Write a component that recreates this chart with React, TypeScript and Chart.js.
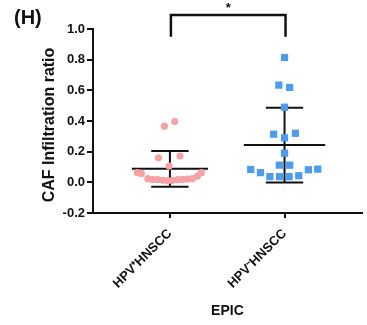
import React, { useEffect, useRef } from "react";
import { Chart, registerables } from "chart.js";

Chart.register(...registerables);

// ---- data ----
const categories = ["HPV\u207AHNSCC", "HPV\u207BHNSCC"];
const categoryPositions = [1, 2];
const yTickValues = [-0.2, 0.0, 0.2, 0.4, 0.6, 0.8, 1.0];

const hpvPosValues = [0.366, 0.396, 0.16, 0.171, 0.106, 0.063, 0.058, 0.024, 0.019, 0.018, 0.013, 0.011, 0.013, 0.018, 0.019, 0.021, 0.024, 0.041, 0.063];
const hpvPosJitter = [-0.048, 0.042, -0.1, 0.088, -0.007, -0.284, -0.249, -0.192, -0.149, -0.106, -0.062, -0.019, 0.024, 0.068, 0.111, 0.154, 0.197, 0.241, 0.275];

const hpvNegValues = [0.814, 0.634, 0.619, 0.49, 0.314, 0.29, 0.32, 0.19, 0.112, 0.112, 0.084, 0.063, 0.037, 0.037, 0.037, 0.043, 0.082, 0.086];
const hpvNegJitter = [0, -0.05, 0.045, 0, -0.095, 0, 0.095, 0, -0.045, 0.045, -0.295, -0.21, -0.128, -0.043, 0.04, 0.124, 0.208, 0.29];

const groupMeans = [0.088, 0.243];
const groupSDs = [0.117, 0.244];

const FONT = "'Liberation Sans', Arial, Helvetica, sans-serif";

function segment(x1: number, y1: number, x2: number, y2: number) {
  return {
    type: "line" as const,
    data: [{ x: x1, y: y1 }, { x: x2, y: y2 }],
    showLine: true,
    borderColor: "#111",
    borderWidth: 2,
    pointRadius: 0,
    pointHoverRadius: 0,
    fill: false,
    order: 5,
    clip: false as any,
  };
}

export default function App() {
  const ref = useRef<HTMLCanvasElement>(null);

  useEffect(() => {
    document.body.style.margin = "0";
    const meanHalf = [0.332, 0.355];
    const capHalf = 0.163;
    const errDatasets: any[] = [];
    categoryPositions.forEach((c, i) => {
      const m = groupMeans[i];
      const s = groupSDs[i];
      errDatasets.push(segment(c - meanHalf[i], m, c + meanHalf[i], m));
      errDatasets.push(segment(c, m - s, c, m + s));
      errDatasets.push(segment(c - capHalf, m + s, c + capHalf, m + s));
      errDatasets.push(segment(c - capHalf, m - s, c + capHalf, m - s));
    });

    const annotPlugin = {
      id: "annot",
      afterDraw(chart: any) {
        const ctx = chart.ctx;
        const xs = chart.scales.x;
        const ys = chart.scales.y;
        ctx.save();
        ctx.fillStyle = "#111";
        ctx.strokeStyle = "#111";
        // panel letter
        ctx.font = `bold 20px ${FONT}`;
        ctx.textAlign = "left";
        ctx.textBaseline = "middle";
        ctx.fillText("(H)", 14, 18);
        // y title
        ctx.save();
        ctx.translate(50, 125);
        ctx.rotate(-Math.PI / 2);
        ctx.font = `bold 16px ${FONT}`;
        ctx.textAlign = "center";
        ctx.textBaseline = "middle";
        ctx.fillText("CAF Infiltration ratio", 0, 0);
        ctx.restore();
        // significance bracket
        const x1 = xs.getPixelForValue(categoryPositions[0]) + 1;
        const x2 = xs.getPixelForValue(categoryPositions[1]) + 1;
        const yTop = ys.getPixelForValue(1.092);
        const yDrop = ys.getPixelForValue(0.95);
        ctx.lineWidth = 2.5;
        ctx.beginPath();
        ctx.moveTo(x1, yDrop);
        ctx.lineTo(x1, yTop);
        ctx.lineTo(x2, yTop);
        ctx.lineTo(x2, yDrop);
        ctx.stroke();
        ctx.font = `bold 13px ${FONT}`;
        ctx.textAlign = "center";
        ctx.textBaseline = "middle";
        ctx.fillText("*", (x1 + x2) / 2, yTop - 6);
        ctx.restore();
      },
    };

    const chart = new Chart(ref.current!, {
      type: "scatter",
      data: {
        datasets: [
          {
            label: categories[0],
            data: hpvPosValues.map((v, i) => ({ x: categoryPositions[0] + hpvPosJitter[i], y: v })),
            pointStyle: "circle",
            pointRadius: 3.6,
            backgroundColor: "#F5A2A4",
            borderWidth: 0,
            order: 1,
          },
          {
            label: categories[1],
            data: hpvNegValues.map((v, i) => ({ x: categoryPositions[1] + hpvNegJitter[i], y: v })),
            pointStyle: "rect",
            pointRadius: 5.1,
            backgroundColor: "#4B9BEF",
            borderWidth: 0,
            order: 1,
          },
          ...errDatasets,
        ],
      },
      options: {
        animation: false,
        responsive: false,
        devicePixelRatio: 1,
        layout: { padding: { top: 29, right: 3, left: 0, bottom: 0 } },
        plugins: { legend: { display: false }, tooltip: { enabled: false }, title: { display: false } },
        scales: {
          x: {
            type: "linear",
            min: 0.329,
            max: 2.675,
            afterBuildTicks: (scale: any) => {
              scale.ticks = categoryPositions.map((v) => ({ value: v }));
            },
            afterFit: (scale: any) => {
              scale.height = 112;
            },
            ticks: {
              minRotation: 45,
              maxRotation: 45,
              padding: 8,
              color: "#111",
              font: { family: FONT, size: 13, weight: "bold" },
              callback: (v: any) => {
                const idx = categoryPositions.indexOf(Number(v));
                return idx >= 0 ? categories[idx] : "";
              },
            },
            grid: { drawOnChartArea: false, drawTicks: true, tickLength: 5, color: "#111", lineWidth: 2 },
            border: { display: true, color: "#111", width: 2 },
            title: {
              display: true,
              text: "EPIC",
              color: "#111",
              font: { family: FONT, size: 14, weight: "bold" },
              padding: { top: 0, bottom: 5 },
            },
          },
          y: {
            type: "linear",
            min: -0.2,
            max: 1.0,
            afterBuildTicks: (scale: any) => {
              scale.ticks = yTickValues.map((v) => ({ value: v }));
            },
            afterFit: (scale: any) => {
              scale.width = 93;
            },
            ticks: {
              padding: 2,
              color: "#111",
              font: { family: FONT, size: 13, weight: "bold" },
              callback: (v: any) => Number(v).toFixed(1),
            },
            grid: { drawOnChartArea: false, drawTicks: true, tickLength: 6, color: "#111", lineWidth: 2 },
            border: { display: true, color: "#111", width: 2 },
          },
        },
      },
      plugins: [annotPlugin],
    } as any);
    return () => chart.destroy();
  }, []);

  return (
    <div style={{ position: "fixed", left: 0, top: 0, width: 367, height: 325 }}>
      <canvas ref={ref} width={367} height={325} style={{ width: 367, height: 325 }} />
    </div>
  );
}
